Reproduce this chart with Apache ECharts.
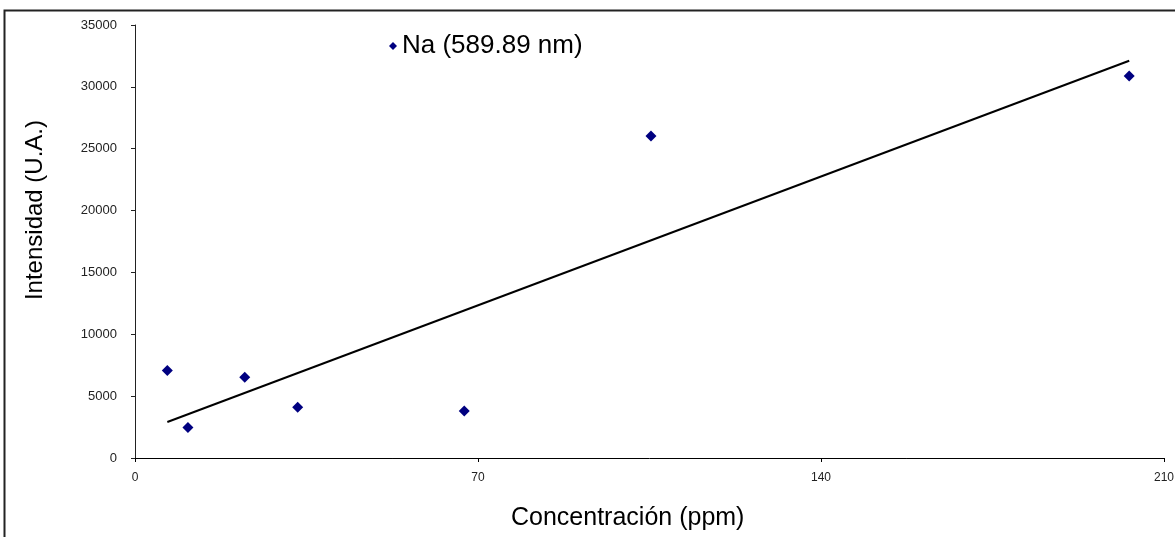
<!DOCTYPE html>
<html>
<head>
<meta charset="utf-8">
<script src="https://cdn.jsdelivr.net/npm/echarts@6/dist/echarts.min.js"></script>
<style>
html,body{margin:0;padding:0;background:#fff;}
#chart{width:1175px;height:537px;}
</style>
</head>
<body>
<div id="chart"></div>
<script>
// Data
const seriesName = 'Na (589.89 nm)';
const concentration = [6.6, 10.8, 22.4, 33.2, 67.2, 105.3, 202.9];
const intensity = [7070, 2460, 6530, 4100, 3800, 26020, 30880];
const trendX = [6.6, 202.9];
const trendY = [2910, 32110];
const xTicks = [0, 70, 140, 210];
const yTicks = [0, 5000, 10000, 15000, 20000, 25000, 30000, 35000];
const xTitle = 'Concentración (ppm)';
const yTitle = 'Intensidad (U.A.)';

const chart = echarts.init(document.getElementById('chart'), null, {renderer: 'canvas'});
const font = 'Liberation Sans, Arial, sans-serif';

const option = {
  backgroundColor: '#fff',
  animation: false,
  grid: {left: 135, right: 11, top: 25, bottom: 79, containLabel: false, outerBoundsMode: 'none'},
  legend: {
    data: [{name: seriesName, icon: 'diamond'}],
    left: 384, top: 28,
    itemWidth: 8, itemHeight: 8, itemGap: 5,
    textStyle: {fontFamily: font, fontSize: 26, color: '#000'}
  },
  graphic: [
    {type: 'rect', shape: {x: 4.5, y: 10.5, width: 1300, height: 700}, style: {fill: null, stroke: '#222', lineWidth: 2}, silent: true, z: 100},
    {type: 'text', left: 511, top: 506, style: {text: xTitle, fontFamily: font, fontSize: 25, fill: '#000'}},
    {type: 'text', left: 23, top: 120, rotation: Math.PI / 2, style: {text: yTitle, fontFamily: font, fontSize: 24, fill: '#000'}}
  ],
  xAxis: {
    type: 'value', min: xTicks[0], max: xTicks[xTicks.length - 1], interval: 70,
    axisLine: {show: true, lineStyle: {color: '#000', width: 1}},
    axisTick: {show: true, length: 4, lineStyle: {color: '#000'}},
    axisLabel: {fontFamily: font, fontSize: 12, color: '#222', margin: 14},
    splitLine: {show: false}
  },
  yAxis: {
    type: 'value', min: yTicks[0], max: yTicks[yTicks.length - 1], interval: 5000,
    axisLine: {show: true, lineStyle: {color: '#222', width: 1}},
    axisTick: {show: true, length: 4, lineStyle: {color: '#222'}},
    axisLabel: {fontFamily: font, fontSize: 13, color: '#222', margin: 18, formatter: v => String(v)},
    splitLine: {show: false}
  },
  series: [
    {
      name: seriesName, type: 'scatter', symbol: 'diamond', symbolSize: 11,
      itemStyle: {color: '#000080', opacity: 1},
      data: concentration.map((x, i) => [x, intensity[i]]),
      z: 3
    },
    {
      name: 'trend', type: 'line', symbol: 'none', silent: true,
      lineStyle: {color: '#000', width: 2},
      data: trendX.map((x, i) => [x, trendY[i]]),
      z: 2
    }
  ]
};
chart.setOption(option);
</script>
</body>
</html>
